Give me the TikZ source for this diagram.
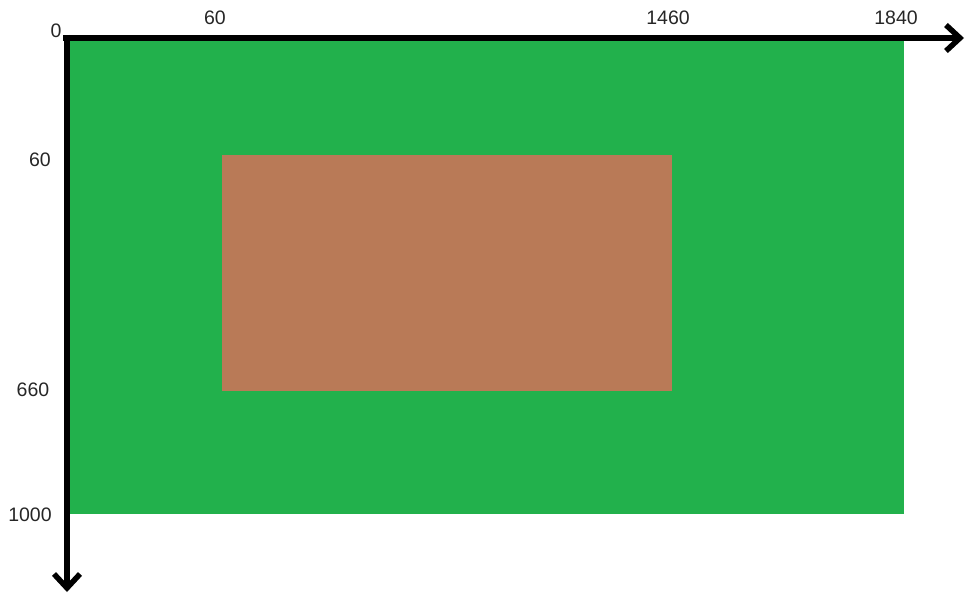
\documentclass[tikz,border=0pt]{standalone}
\usepackage{fontspec}
\setmainfont{Liberation Sans}
\usepackage{xcolor}
\usetikzlibrary{arrows.meta, positioning}

\definecolor{grass}{HTML}{22B14C}
\definecolor{clay}{HTML}{B97A57}

\begin{document}
\begin{tikzpicture}[
    x=1pt, y=-1pt,
    axis/.style={line width=5.5pt, -{Straight Barb[length=14pt, width=26pt, line width=5.5pt]}},
    lbl/.style={font=\fontsize{19.5}{22}\selectfont, text=black!85, inner sep=0pt},
]
\useasboundingbox (0,0) rectangle (966,596);
\fill[grass] (70,40) rectangle (904,514);
\fill[clay] (222,155) rectangle (672,391);
\coordinate (ox) at (63,38);
\coordinate (oy) at (67,35);
\coordinate (xend) at (964,38);
\coordinate (yend) at (67,592);
\draw[axis] (ox) -- (xend);
\draw[axis] (oy) -- (yend);
\node[lbl] (zero) at (56,31) {0};
\node[lbl] (xa) at (215,18) {60};
\node[lbl] (xb) at (668,18) {1460};
\node[lbl] (xc) at (896,18) {1840};
\node[lbl] (ya) at (40,160) {60};
\node[lbl] (yb) at (33,390) {660};
\node[lbl] (yc) at (30,515) {1000};
\end{tikzpicture}
\end{document}
